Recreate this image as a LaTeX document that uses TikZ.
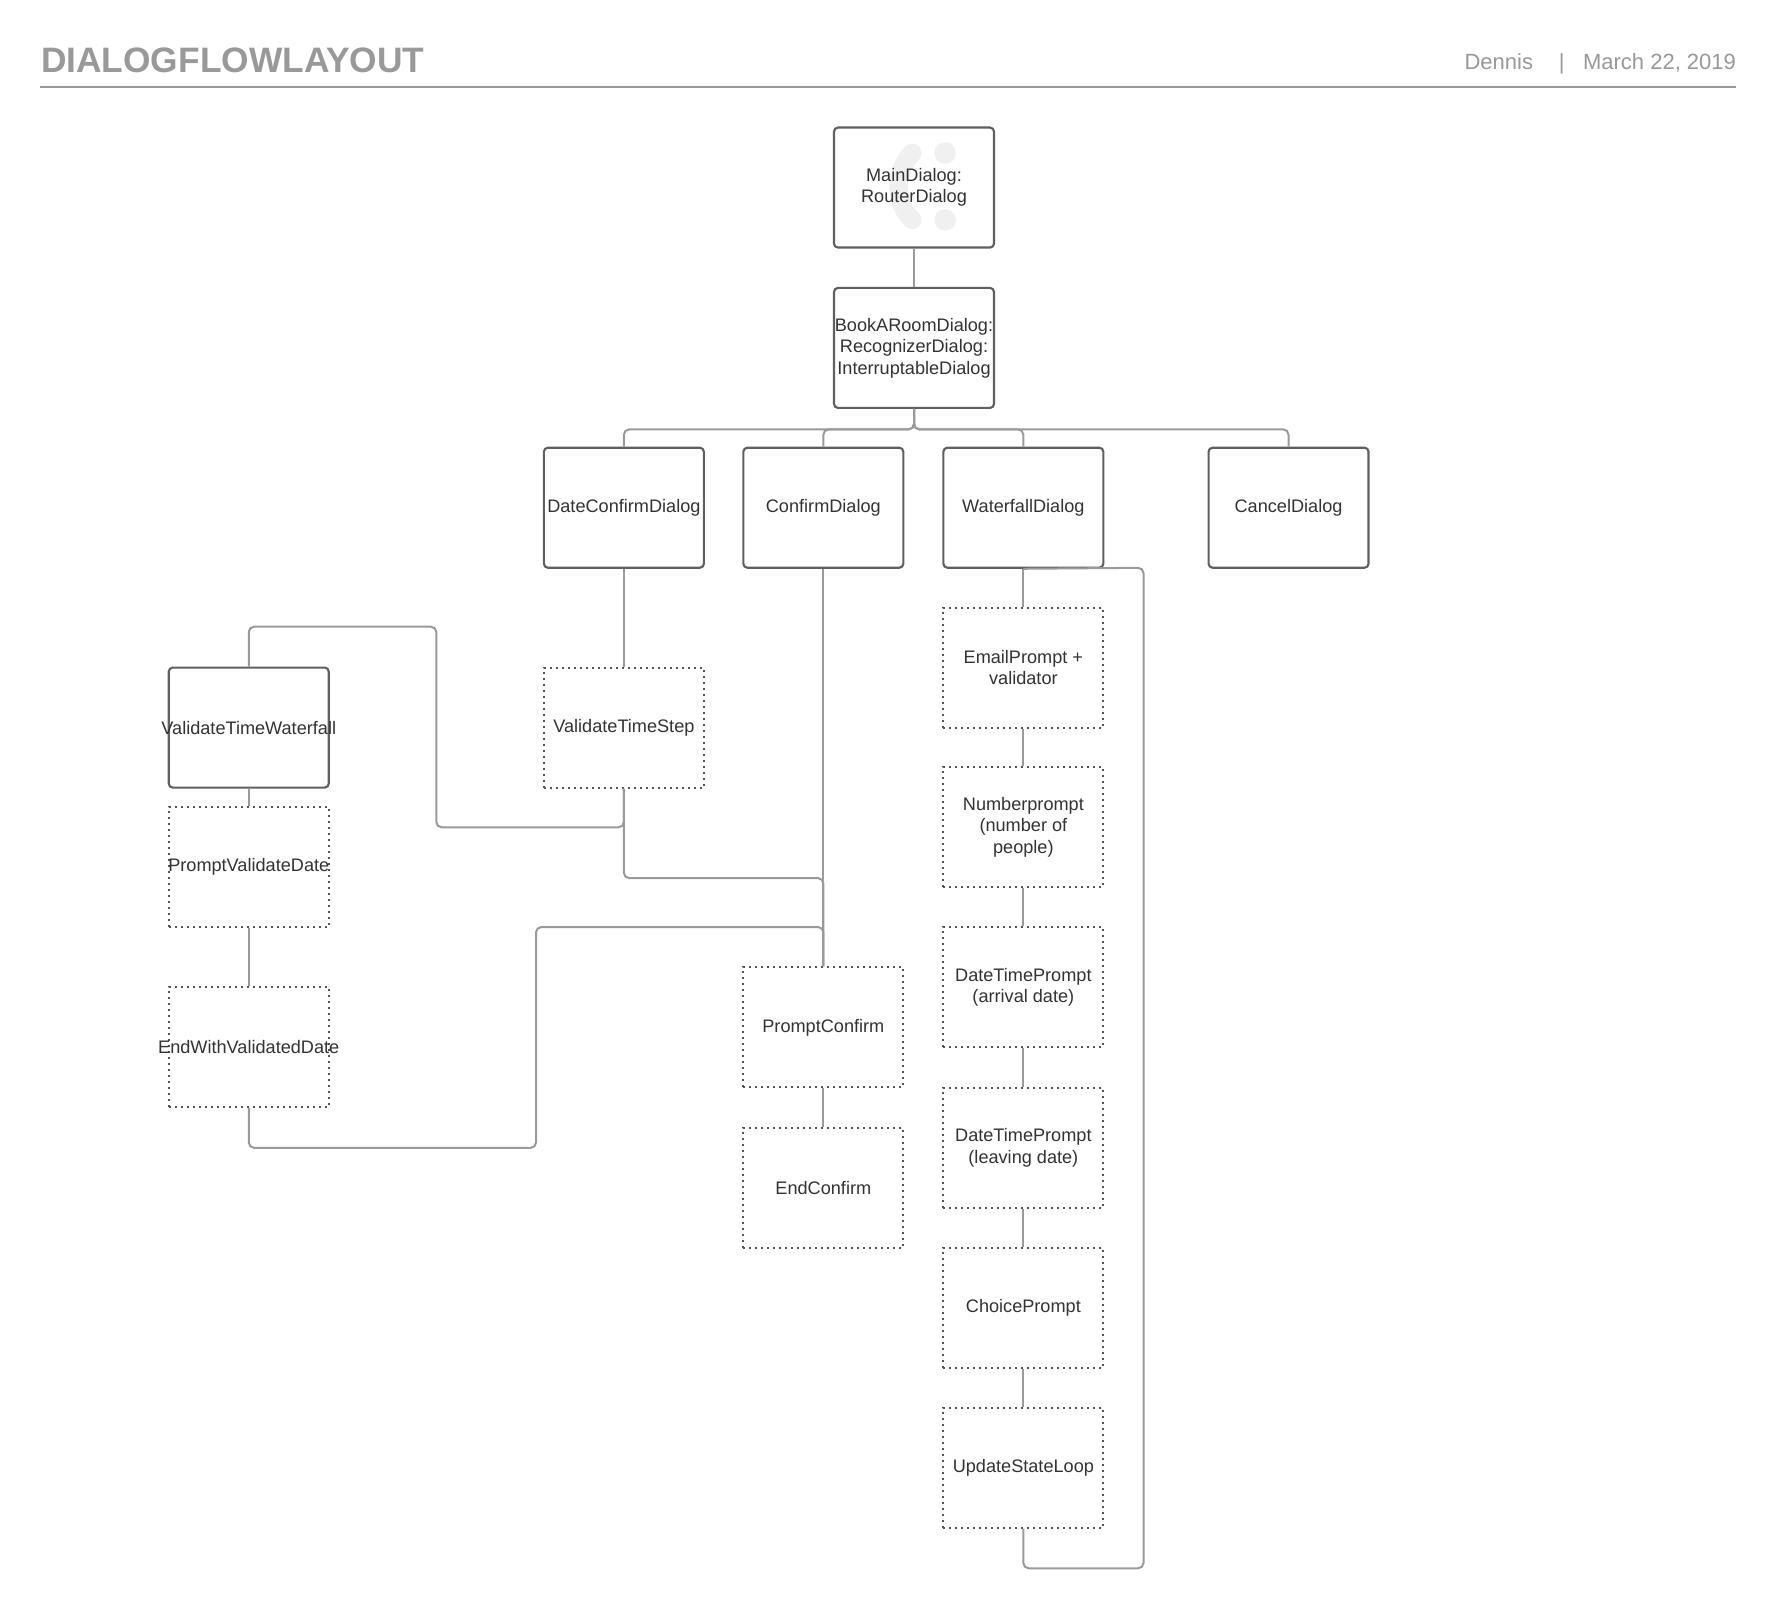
\documentclass[tikz,border=0pt]{standalone}
\usepackage{fontspec}
\setmainfont{Liberation Sans}
\begin{document}
\begin{tikzpicture}[x=0.85pt,y=-0.85pt,
  solidbox/.style={draw=boxc,line width=1.6pt,rounded corners=3pt,minimum width=120pt,minimum height=90pt,inner sep=0pt,align=center,text=txt,font=\fontsize{13.6}{16.1}\selectfont},
  dotbox/.style={draw=dotc,line width=1.5pt,dash pattern=on 1.5pt off 3pt,minimum width=120pt,minimum height=90pt,inner sep=0pt,align=center,text=txt,font=\fontsize{13.6}{16.1}\selectfont},
  conn/.style={draw=connc,line width=1.5pt,rounded corners=4pt},
  hdr/.style={text=hdrc,inner sep=0pt}]
\definecolor{boxc}{HTML}{606060}
\definecolor{dotc}{HTML}{555555}
\definecolor{connc}{HTML}{9A9A9A}
\definecolor{txt}{HTML}{333333}
\definecolor{hdrc}{HTML}{999999}
\definecolor{wmark}{HTML}{F0F0F0}
\useasboundingbox[fill=white] (0,0) rectangle (1568,1419);
% header
\node[hdr,anchor=base west,font=\fontsize{26.5}{30}\bfseries\selectfont] (title) at (36,64) {DIALOGFLOWLAYOUT};
\node[hdr,anchor=base east,font=\fontsize{16.5}{20}\selectfont] (author) at (1353,61) {Dennis};
\node[hdr,anchor=base,font=\fontsize{16.5}{20}\selectfont] (sep) at (1378,61) {|};
\node[hdr,anchor=base east,font=\fontsize{16.5}{20}\selectfont] (date) at (1532,61) {March 22, 2019};
\draw[hdrc,line width=1.6pt] (35,77) -- (1532,77);
% watermark
\fill[wmark] (834,135) circle (9.5);
\fill[wmark] (834,194) circle (9.5);
\draw[wmark,line width=14pt,line cap=round] (805,135) .. controls (789,150) and (789,180) .. (805,194);
% nodes
\node[solidbox] (main) at (806.5,165.5) {MainDialog:\\RouterDialog};
\node[solidbox] (book) at (806.5,307) {BookARoomDialog:\\RecognizerDialog:\\InterruptableDialog};
\node[solidbox] (dcd) at (550.5,448) {DateConfirmDialog};
\node[solidbox] (cd) at (726.5,448) {ConfirmDialog};
\node[solidbox] (wd) at (903,448) {WaterfallDialog};
\node[solidbox] (cancel) at (1137,448) {CancelDialog};
\node[dotbox] (vts) at (550.5,642) {ValidateTimeStep};
\node[solidbox] (vtw) at (219.5,642) {\makebox[0pt]{ValidateTimeWaterfall}};
\node[dotbox] (pvd) at (219.5,765) {\makebox[0pt]{PromptValidateDate}};
\node[dotbox] (ewvd) at (219.5,924) {\makebox[0pt]{EndWithValidatedDate}};
\node[dotbox] (pc) at (726.5,906.5) {PromptConfirm};
\node[dotbox] (ec) at (726.5,1048) {EndConfirm};
\node[dotbox] (ep) at (903,589) {EmailPrompt +\\validator};
\node[dotbox] (np) at (903,730) {Numberprompt\\(number of\\people)};
\node[dotbox] (dta) at (903,871) {DateTimePrompt\\(arrival date)};
\node[dotbox] (dtl) at (903,1013) {DateTimePrompt\\(leaving date)};
\node[dotbox] (chp) at (903,1154) {ChoicePrompt};
\node[dotbox] (usl) at (903,1295) {UpdateStateLoop};
% connectors
\draw[conn] (main.south) -- (book.north);
\draw[conn] (book.south) -- ++(0,18) -| (dcd.north);
\draw[conn] (book.south) -- ++(0,18) -| (cd.north);
\draw[conn] (book.south) -- ++(0,18) -| (wd.north);
\draw[conn] (book.south) -- ++(0,18) -| (cancel.north);
\draw[conn] (dcd.south) -- (vts.north);
\draw[conn] (vts.south) |- (385,730) -- (385,553) -| (vtw.north);
\draw[conn] (vts.south) -- ++(0,79) -| (pc.north);
\draw[conn] (cd.south) -- (pc.north);
\draw[conn] (vtw.south) -- (pvd.north);
\draw[conn] (pvd.south) -- (ewvd.north);
\draw[conn] (ewvd.south) -- ++(0,35) -| (473,818) -| (pc.north);
\draw[conn] (pc.south) -- (ec.north);
\draw[conn] (wd.south) -- (ep.north);
\draw[conn] (ep.south) -- (np.north);
\draw[conn] (np.south) -- (dta.north);
\draw[conn] (dta.south) -- (dtl.north);
\draw[conn] (dtl.south) -- (chp.north);
\draw[conn] (chp.south) -- (usl.north);
\draw[conn] (usl.south) -- ++(0,35) -| (1009,501) -- (wd.south);
\end{tikzpicture}
\end{document}
